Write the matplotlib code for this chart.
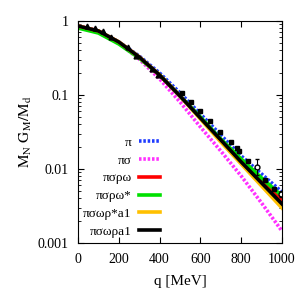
import matplotlib
matplotlib.use("Agg")
import matplotlib.pyplot as plt
import numpy as np

plt.rcParams["font.family"] = ["Liberation Serif", "DejaVu Serif"]
plt.rcParams["mathtext.fontset"] = "stix"

# model curves (q in MeV)
q = [0, 100, 200, 300, 400, 500, 600, 700, 800, 900, 1000]
pi_only = [0.856, 0.733, 0.520, 0.336, 0.198, 0.107, 0.0554, 0.0288, 0.0150, 0.00855, 0.00489]
pi_sigma = [0.856, 0.733, 0.504, 0.306, 0.165, 0.0806, 0.0370, 0.0175, 0.00804, 0.00347, 0.00145]
pi_sigma_rho_omega = [0.856, 0.733, 0.520, 0.326, 0.186, 0.097, 0.0489, 0.0247, 0.0128, 0.00689, 0.00381]
pi_sigma_rho_omega_star = [0.804, 0.688, 0.489, 0.316, 0.186, 0.097, 0.0504, 0.0254, 0.01365, 0.00756, 0.00432]
pi_sigma_omega_rho_star_a1 = [0.856, 0.733, 0.520, 0.326, 0.186, 0.097, 0.0474, 0.0232, 0.01169, 0.00589, 0.00297]
pi_sigma_omega_rho_a1 = [0.856, 0.733, 0.520, 0.326, 0.186, 0.097, 0.0489, 0.0247, 0.01244, 0.00647, 0.00337]

labels = ["π", "πσ", "πσρω", "πσρω*", "πσωρ*a1", "πσωρa1"]
colors = ["#1f3cff", "#ff30ff", "#ff0000", "#00e000", "#ffc000", "#000000"]

# experimental points
tri_q = [42, 83, 121, 160, 247, 284, 361, 394]
tri_v = [0.86, 0.80, 0.74, 0.60, 0.44, 0.34, 0.225, 0.186]
sq_q = [508, 552, 598, 647, 696, 750, 781, 791, 835, 917, 961]
sq_v = [0.105, 0.080, 0.061, 0.044, 0.032, 0.023, 0.019, 0.0175, 0.0128, 0.0072, 0.0053]
circ_q = [879, 995]
circ_v = [0.0105, 0.0046]
circ_lo = [0.0083, 0.0042]
circ_hi = [0.0135, 0.0051]

fig = plt.figure(figsize=(3, 3), dpi=100)
ax = fig.add_axes([0.26, 0.19, 0.68, 0.74])

series = [pi_only, pi_sigma, pi_sigma_rho_omega, pi_sigma_rho_omega_star,
          pi_sigma_omega_rho_star_a1, pi_sigma_omega_rho_a1]
for i, (vals, lab, col) in enumerate(zip(series, labels, colors)):
    ls = (0, (0.7, 0.5)) if i < 2 else "-"
    ax.plot(q, vals, color=col, lw=2.6, ls=ls, label=lab)

ax.plot(tri_q, tri_v, "^", color="black", ms=3.5, ls="none")
ax.plot(sq_q, sq_v, "s", color="black", ms=3.5, ls="none")
yerr = [np.array(circ_v) - np.array(circ_lo), np.array(circ_hi) - np.array(circ_v)]
ax.errorbar(circ_q, circ_v, yerr=yerr, fmt="o", mfc="white", mec="black",
            ecolor="black", ms=3.5, elinewidth=0.8, capsize=1.5)

ax.set_yscale("log")
ax.set_xlim(0, 1000)
ax.set_ylim(0.001, 1)
ax.set_xticks([0, 200, 400, 600, 800, 1000])
ax.set_yticks([0.001, 0.01, 0.1, 1])
ax.set_yticklabels(["0.001", "0.01", "0.1", "1"])
ax.tick_params(which="both", direction="in", top=True, right=True, labelsize=10)
ax.tick_params(which="major", length=4, pad=7)
ax.tick_params(which="minor", length=2)
for s in ax.spines.values():
    s.set_linewidth(0.8)

ax.set_xlabel("q [MeV]", fontsize=11, labelpad=7)
ax.set_ylabel(r"$\mathrm{M_N\ G_M/M_d}$", fontsize=11, labelpad=2)

ax.legend(loc="upper right", bbox_to_anchor=(0.44, 0.515), frameon=False,
          markerfirst=False, fontsize=9.5, handlelength=1.55, labelspacing=0.42,
          borderpad=0.1, handletextpad=0.6)

fig.savefig("out.png", dpi=100)
